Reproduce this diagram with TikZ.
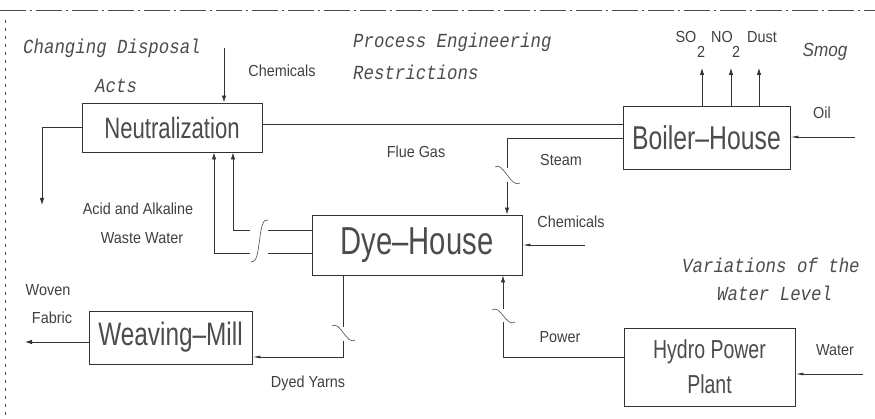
\documentclass[tikz,border=0pt]{standalone}
\usepackage{fontspec}
\usetikzlibrary{arrows.meta,calc}
\newfontfamily\labfont{Liberation Sans}[FakeStretch=0.9]
\newfontfamily\boxfont{Liberation Sans}[FakeStretch=0.75]
\newfontfamily\notefont{Liberation Mono}[FakeStretch=0.87]
\begin{document}
\begin{tikzpicture}[x=1pt,y=-1pt,
  ln/.style={draw=black!80,line width=0.8pt},
  arr/.style={ln,-{Latex[length=7pt,width=4.5pt]}},
  arrin/.style={ln,-{Latex[length=8pt,width=3pt]}},
  brk/.style={draw=black!70,line width=0.6pt},
  proc/.style={draw=black!80,line width=0.9pt,inner sep=0pt,text=black!70,align=center},
  lab/.style={inner sep=0pt,text=black!75,font=\labfont\fontsize{16}{18}\selectfont},
  note/.style={inner sep=0pt,text=black!70,anchor=west,font=\notefont\itshape\fontsize{20}{22}\selectfont},
  frm/.style={draw=black!70,line width=0.8pt}]
\useasboundingbox[fill=white] (0,0) rectangle (875,419);
% frame
\draw[frm,dash pattern=on 26pt off 4pt on 2pt off 4pt] (0,10) -- (875,10);
\draw[frm,line width=0.6pt,dash pattern=on 3pt off 5pt] (5,20) -- (5,419);
% boxes
\node[proc,minimum width=180pt,minimum height=49pt,font=\boxfont\fontsize{29.5}{31}\selectfont] (neut) at (172,127.5) {Neutralization};
\node[proc,minimum width=167pt,minimum height=63pt,font=\boxfont\fontsize{33}{35}\selectfont] (boiler) at (706.5,137.5) {Boiler–House};
\node[proc,minimum width=210pt,minimum height=60pt,font=\boxfont\fontsize{39}{42}\selectfont] (dye) at (417,245) {Dye–House};
\node[proc,minimum width=163pt,minimum height=53pt,font=\boxfont\fontsize{32.5}{34}\selectfont] (weave) at (170.5,337.5) {Weaving–Mill};
\node[proc,minimum width=171pt,minimum height=78pt,font=\boxfont\fontsize{26}{35}\selectfont] (hydro) at (709.5,367) {Hydro Power\\Plant};
% italic notes
\node[note] (n1) at (23,48) {Changing Disposal};
\node[note] (n2) at (95,86) {Acts};
\node[note] (n3) at (353,42) {Process Engineering};
\node[note] (n4) at (353,72) {Restrictions};
\node[note] (n5) at (682,265) {Variations of the};
\node[note] (n6) at (717,293) {Water Level};
\node[inner sep=0pt,text=black!70,font=\labfont\itshape\fontsize{19}{21}\selectfont] (smog) at (825,52) {Smog};
% labels
\node[lab] (l1) at (282,71) {Chemicals};
\node[lab] (l2) at (416,152) {Flue Gas};
\node[lab] (l3) at (561,160) {Steam};
\node[lab] (l4) at (571,222) {Chemicals};
\node[lab] (l5) at (822,113) {Oil};
\node[lab] (l6) at (138,209) {Acid and Alkaline};
\node[lab] (l7) at (142,238) {Waste Water};
\node[lab] (l8) at (48,290) {Woven};
\node[lab] (l9) at (52,318) {Fabric};
\node[lab] (l10) at (308,383) {Dyed Yarns};
\node[lab] (l11) at (560,337) {Power};
\node[lab] (l12) at (835,350) {Water};
\node[lab] (e1) at (686,37) {SO};
\node[lab] (e1s) at (701,52) {2};
\node[lab] (e2) at (722,37) {NO};
\node[lab] (e2s) at (736,52) {2};
\node[lab] (e3) at (762,37) {Dust};
% coordinates
\coordinate (c1) at (224,48);
\coordinate (ad) at (42,205);
\coordinate (fg) at (0,124);
\coordinate (st) at (507,138);
\coordinate (stb1) at (507,168);
\coordinate (stb2) at (507,182);
\coordinate (oil) at (855,137);
\coordinate (so) at (702,68);
\coordinate (no) at (731,68);
\coordinate (du) at (759,68);
\coordinate (aa) at (214,253);
\coordinate (ab) at (233,230);
\coordinate (dy) at (343,357);
\coordinate (dyb1) at (343,327);
\coordinate (dyb2) at (343,341);
\coordinate (pw) at (503,357);
\coordinate (pwb1) at (503,322);
\coordinate (pwb2) at (503,309);
\coordinate (ch2) at (585,245);
\coordinate (wt) at (863,374);
\coordinate (wf) at (25,342);
% connectors
\draw[arr] (c1) -- (c1 |- neut.north);
\draw[arr] (neut.west) -| (ad);
\draw[ln] (neut.east |- fg) -- (boiler.west |- fg);
\draw[ln] (boiler.west |- st) -- (st) -- (stb1);
\draw[arr] (stb2) -- (stb2 |- dye.north);
\draw[brk] (495,167) .. controls (503,161) and (511,189) .. (520,183);
\draw[arrin] (oil) -- (boiler.east |- oil);
\draw[arr] (so |- boiler.north) -- (so);
\draw[arr] (no |- boiler.north) -- (no);
\draw[arr] (du |- boiler.north) -- (du);
% acid / alkaline waste water
\draw[arr] (250,253) -- (aa) -- (aa |- neut.south);
\draw[arr] (250,230) -- (ab) -- (ab |- neut.south);
\draw[ln] (dye.west |- aa) -- (268,253);
\draw[ln] (dye.west |- ab) -- (268,230);
\draw[brk] (268,220) .. controls (257,216) and (262,265) .. (251,262);
% dyed yarns
\draw[ln] (dy |- dye.south) -- (dyb1);
\draw[arrin] (dyb2) -- (dy) -- (weave.east |- dy);
\draw[brk] (332,326) .. controls (340,320) and (347,346) .. (355,340);
% power
\draw[ln] (hydro.west |- pw) -- (pw) -- (pwb1);
\draw[arr] (pwb2) -- (pwb2 |- dye.south);
\draw[brk] (492,310) .. controls (500,304) and (507,328) .. (515,322);
% inputs
\draw[arrin] (ch2) -- (dye.east |- ch2);
\draw[arrin] (wt) -- (hydro.east |- wt);
\draw[arr] (weave.west |- wf) -- (wf);
\end{tikzpicture}
\end{document}
